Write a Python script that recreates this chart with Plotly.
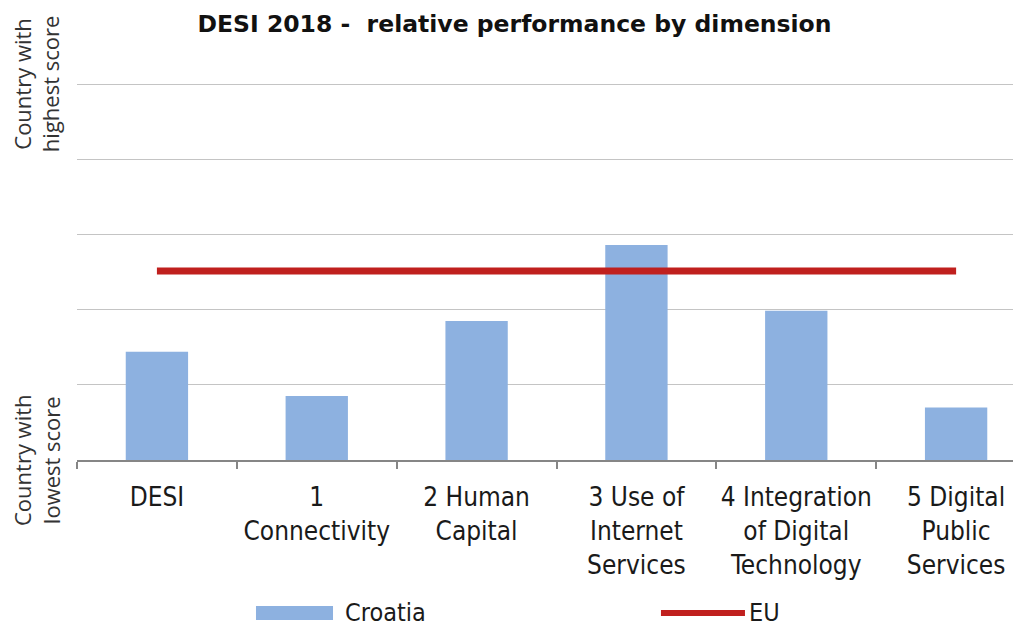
import plotly.graph_objects as go

categories = ["DESI", "1<br>Connectivity", "2 Human<br>Capital", "3 Use of<br>Internet<br>Services",
              "4 Integration<br>of Digital<br>Technology", "5 Digital<br>Public<br>Services"]
croatia = [0.288, 0.170, 0.370, 0.572, 0.397, 0.140]
eu = [0.503, 0.503, 0.503, 0.503, 0.503, 0.503]
y_tickvals = [0, 0.2, 0.4, 0.6, 0.8, 1.0]
y_end_labels = ["Country with<br>lowest score", "Country with<br>highest score"]
series_names = ["Croatia", "EU"]

FONT = "DejaVu Sans Condensed, Liberation Sans Narrow, sans-serif"
BAR_COLOR = "#8DB1E0"
EU_COLOR = "#C0201E"

fig = go.Figure()
fig.add_trace(go.Bar(x=categories, y=croatia, name=series_names[0], marker_color=BAR_COLOR,
                     marker_line_width=0))
fig.add_trace(go.Scatter(x=categories, y=eu, name=series_names[1], mode="lines",
                         line=dict(color=EU_COLOR, width=7)))

fig.update_layout(
    width=1013, height=619,
    margin=dict(l=69, r=0, t=75, b=167, autoexpand=False),
    paper_bgcolor="white", plot_bgcolor="white",
    bargap=0.61,
    font=dict(family=FONT, size=26, color="#1a1a1a"),
    title=dict(text="<b>DESI 2018 -  relative performance by dimension</b>",
               x=0.5, xanchor="center", y=0.974, yanchor="middle",
               font=dict(family="DejaVu Sans, sans-serif", size=23.5, color="#111")),
    showlegend=False,
    xaxis=dict(type="category", range=[-0.5, 5.406], tickson="boundaries",
               ticks="outside", ticklen=7, tickcolor="#868686", tickwidth=1.5,
               showline=True, linecolor="#868686", linewidth=1.5,
               showgrid=False, ticklabelstandoff=13, tickangle=0,
               tickfont=dict(family=FONT, size=26, color="#1a1a1a")),
    yaxis=dict(range=[0, 1.003], tickvals=y_tickvals, showticklabels=False,
               showgrid=True, gridcolor="#C4C4C4", gridwidth=1.3,
               zeroline=False, showline=False),
)

# rotated end labels of the value axis
for val, txt in zip([0.0, 1.0], y_end_labels):
    fig.add_annotation(text=txt, xref="paper", yref="y",
                       x=-0.0434, y=val, textangle=-90, showarrow=False,
                       xanchor="center", yanchor="middle",
                       font=dict(family="Open Sans, sans-serif", size=22, color="#333"))

# legend drawn manually (wide swatches as in the reference)
fig.add_shape(type="rect", xref="paper", yref="paper",
              x0=0.1896, x1=0.2712, y0=-0.4244, y1=-0.3873,
              fillcolor=BAR_COLOR, line_width=0)
fig.add_annotation(text=series_names[0], xref="paper", yref="paper", x=0.2818, y=-0.4058,
                   xanchor="left", yanchor="middle", showarrow=False,
                   font=dict(family=FONT, size=25, color="#1a1a1a"))
fig.add_shape(type="line", xref="paper", yref="paper",
              x0=0.6186, x1=0.7076, y0=-0.4058, y1=-0.4058,
              line=dict(color=EU_COLOR, width=6))
fig.add_annotation(text=series_names[1], xref="paper", yref="paper", x=0.7095, y=-0.4058,
                   xanchor="left", yanchor="middle", showarrow=False,
                   font=dict(family=FONT, size=25, color="#1a1a1a"))

fig.write_html("out.html")
